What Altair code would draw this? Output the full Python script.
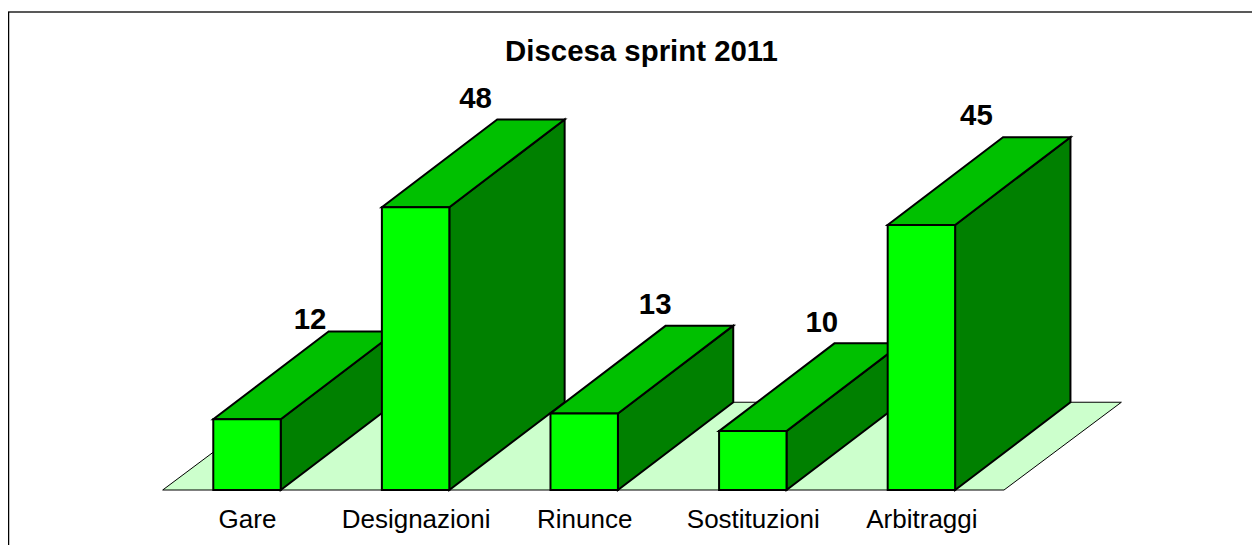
import altair as alt
import pandas as pd

categories = ["Gare", "Designazioni", "Rinunce", "Sostituzioni", "Arbitraggi"]
values = [12, 48, 13, 10, 45]
chart_title = "Discesa sprint 2011"

# drawing parameters (data units of the chart's scales)
half_w = 0.2
depth_x = 0.684
depth_y = 14.9
floor_lo, floor_hi = -0.5, 4.49
floor_depth_x = 0.696
# pixel nudges of the value labels
label_dx = [63, 60, 71, 69, 55]
label_dy = [-12, -21, -21, -20, -21]

FRONT, TOP, SIDE, FLOOR = "#00FF00", "#00C000", "#008000", "#CCFFCC"
FONT = "Liberation Sans"
W, H = 1244, 537

# one scale unit is 168.6 px across and 5.89 px up
x0_px, y0_px = 239, 482
xs = alt.Scale(domain=[-x0_px / 168.6, (W - x0_px) / 168.6], nice=False, zero=False)
ys = alt.Scale(domain=[(y0_px - H) / 5.89, y0_px / 5.89], nice=False, zero=False)

axis_x = alt.Axis(
    values=list(range(len(categories))),
    labelExpr="[" + ",".join(f"'{c}'" for c in categories) + "][datum.value]",
    domain=False, ticks=False, grid=False, title=None, offset=y0_px - H,
    labelPadding=16, labelFontSize=26, labelFont=FONT, labelColor="black",
    labelOverlap=False, labelFlush=False, labelBound=False, labelAngle=0,
)
X = lambda f: alt.X(f, type="quantitative", scale=xs, axis=axis_x)
Y = lambda f: alt.Y(f, type="quantitative", scale=ys, axis=None)

floor = alt.Chart(pd.DataFrame({
    "y": [0, depth_y],
    "x": [floor_lo, floor_lo + floor_depth_x],
    "x2": [floor_hi, floor_hi + floor_depth_x],
})).mark_area(orient="horizontal", fill=FLOOR, stroke="black", strokeWidth=1, opacity=1).encode(
    y=Y("y"), x=X("x"), x2="x2",
)

layers = [floor]
for i, v in enumerate(values):
    side = pd.DataFrame({
        "x": [i + half_w, i + half_w + depth_x],
        "y": [v, v + depth_y],
        "y0": [0, depth_y],
    })
    top = pd.DataFrame({
        "y": [v, v + depth_y],
        "x": [i - half_w, i - half_w + depth_x],
        "x2": [i + half_w, i + half_w + depth_x],
    })
    front = pd.DataFrame({"x": [i - half_w], "x2": [i + half_w], "y": [0], "v": [v]})
    layers.append(alt.Chart(side).mark_area(fill=SIDE, stroke="black", strokeWidth=2, opacity=1).encode(
        x=X("x"), y=Y("y"), y2="y0"))
    layers.append(alt.Chart(top).mark_area(orient="horizontal", fill=TOP, stroke="black", strokeWidth=2, opacity=1).encode(
        y=Y("y"), x=X("x"), x2="x2"))
    layers.append(alt.Chart(front).mark_rect(fill=FRONT, stroke="black", strokeWidth=2).encode(
        x=X("x"), x2="x2", y=Y("y"), y2="v"))

for i, v in enumerate(values):
    lab = pd.DataFrame({"x": [i], "y": [v + depth_y], "t": [str(v)]})
    layers.append(alt.Chart(lab).mark_text(
        font=FONT, fontWeight="bold", fontSize=29.4, color="black",
        dx=label_dx[i], dy=label_dy[i], align="center", baseline="middle",
    ).encode(x=X("x"), y=Y("y"), text="t:N"))

rule_df = pd.DataFrame({"a": [0]})
layers.append(alt.Chart(rule_df).mark_rule(color="#222222", strokeWidth=1.5).encode(
    x=alt.value(0), x2=alt.value(W), y=alt.value(4)))
layers.append(alt.Chart(rule_df).mark_rule(color="black", strokeWidth=1.5).encode(
    x=alt.value(0.5), y=alt.value(4), y2=alt.value(H)))

chart = alt.layer(*layers).properties(
    width=W, height=H, padding=0,
    autosize=alt.AutoSizeParams(type="none"),
    title=alt.TitleParams(chart_title, font=FONT, fontWeight="bold", fontSize=29.4,
                          color="black", anchor="middle", dx=11.5, offset=-59),
    background="white",
).configure_view(stroke=None)

chart.save("out.html", embed_options={"renderer": "svg", "actions": False})
